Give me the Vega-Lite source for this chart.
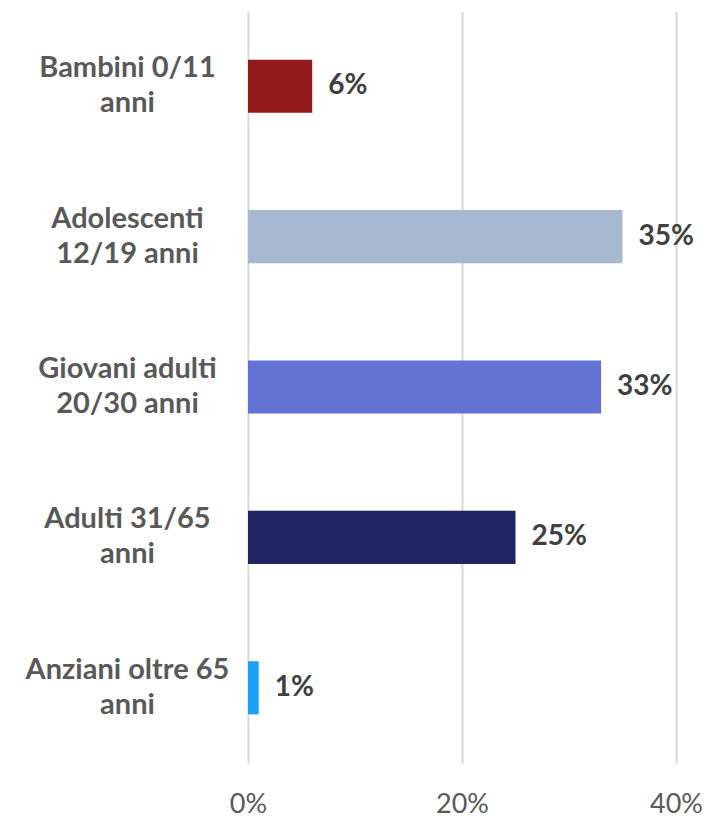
{
  "$schema": "https://vega.github.io/schema/vega-lite/v6.json",
  "autosize": {"type": "none"},
  "padding": {"left": 248, "top": 11, "right": 29, "bottom": 54},
  "width": 428,
  "height": 752,
  "background": "white",
  "config": {"view": {"stroke": null}, "font": "Lato"},
  "data": {
    "values": [
      {"gruppo": "Bambini 0/11 anni", "quota": 6, "etichetta": "6%"},
      {"gruppo": "Adolescenti 12/19 anni", "quota": 35, "etichetta": "35%"},
      {"gruppo": "Giovani adulti 20/30 anni", "quota": 33, "etichetta": "33%"},
      {"gruppo": "Adulti 31/65 anni", "quota": 25, "etichetta": "25%"},
      {"gruppo": "Anziani oltre 65 anni", "quota": 1, "etichetta": "1%"}
    ]
  },
  "encoding": {
    "y": {
      "field": "gruppo",
      "type": "nominal",
      "sort": null,
      "title": null,
      "scale": {"paddingInner": 0.647, "paddingOuter": 0.3235},
      "axis": {
        "domain": false,
        "ticks": false,
        "grid": false,
        "labelAlign": "center",
        "labelPadding": 121,
        "labelOffset": -18,
        "labelFont": "Lato",
        "labelFontSize": 29,
        "labelFontWeight": "bold",
        "labelColor": "#595959",
        "labelLineHeight": 35,
        "labelLimit": 300,
        "labelExpr": "datum.value == 'Bambini 0/11 anni' ? ['Bambini 0/11', 'anni'] : datum.value == 'Adolescenti 12/19 anni' ? ['Adolescenti', '12/19 anni'] : datum.value == 'Giovani adulti 20/30 anni' ? ['Giovani adulti', '20/30 anni'] : datum.value == 'Adulti 31/65 anni' ? ['Adulti 31/65', 'anni'] : ['Anziani oltre 65', 'anni']"
      }
    },
    "x": {
      "field": "quota",
      "type": "quantitative",
      "title": null,
      "scale": {"domain": [0, 40], "nice": false},
      "axis": {
        "values": [0, 20, 40],
        "labelExpr": "datum.value + '%'",
        "domain": false,
        "ticks": false,
        "grid": true,
        "gridColor": "#d9d9d9",
        "gridWidth": 2,
        "labelFont": "Lato",
        "labelFontSize": 27,
        "labelColor": "#595959",
        "labelPadding": 28,
        "labelFlush": false
      }
    }
  },
  "layer": [
    {
      "mark": {"type": "bar"},
      "encoding": {
        "color": {
          "field": "gruppo",
          "type": "nominal",
          "legend": null,
          "scale": {
            "domain": ["Bambini 0/11 anni", "Adolescenti 12/19 anni", "Giovani adulti 20/30 anni", "Adulti 31/65 anni", "Anziani oltre 65 anni"],
            "range": ["#931A1A", "#A7B9D0", "#6373D3", "#1F2562", "#1BA1F7"]
          }
        }
      }
    },
    {
      "mark": {"type": "text", "align": "left", "baseline": "middle", "dx": 16, "font": "Lato", "fontSize": 28, "fontWeight": "bold", "color": "#404040"},
      "encoding": {"text": {"field": "etichetta"}}
    }
  ]
}
